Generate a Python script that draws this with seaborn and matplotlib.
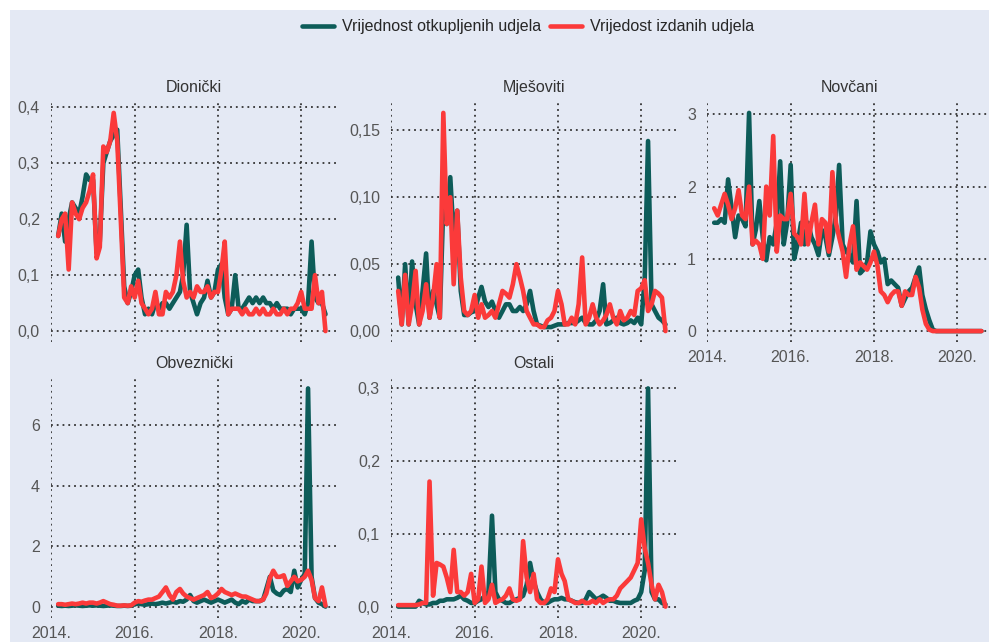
import pandas as pd
import seaborn as sns
import matplotlib.pyplot as plt
import matplotlib.dates as mdates
import matplotlib.ticker as mticker
from matplotlib.patches import Rectangle

# monthly data, Mar 2014 - Aug 2020
mjeseci = pd.date_range('2014-03-01', periods=78, freq='MS')

fondovi = ['Dionički', 'Mješoviti', 'Novčani', 'Obveznički', 'Ostali']
serije = ['Vrijednost otkupljenih udjela', 'Vrijedost izdanih udjela']

dionicki_otkup = [0.17, 0.21, 0.16, 0.20, 0.23, 0.22, 0.21, 0.24, 0.28, 0.27,
                  0.27, 0.14, 0.16, 0.30, 0.32, 0.34, 0.35, 0.36, 0.22, 0.08,
                  0.05, 0.07, 0.10, 0.11, 0.06, 0.03, 0.04, 0.03, 0.05, 0.04,
                  0.05, 0.05, 0.04, 0.05, 0.06, 0.07, 0.10, 0.19, 0.07, 0.05,
                  0.03, 0.05, 0.06, 0.09, 0.06, 0.07, 0.11, 0.12, 0.06, 0.03,
                  0.04, 0.10, 0.04, 0.04, 0.05, 0.06, 0.05, 0.06, 0.05, 0.06,
                  0.05, 0.05, 0.04, 0.05, 0.04, 0.04, 0.04, 0.03, 0.04, 0.04,
                  0.04, 0.03, 0.05, 0.16, 0.06, 0.05, 0.05, 0.03]
dionicki_izdanje = [0.17, 0.20, 0.21, 0.11, 0.23, 0.21, 0.20, 0.22, 0.23, 0.25,
                    0.28, 0.13, 0.15, 0.33, 0.32, 0.34, 0.39, 0.34, 0.20, 0.06,
                    0.05, 0.08, 0.06, 0.09, 0.05, 0.04, 0.03, 0.04, 0.07, 0.03,
                    0.03, 0.07, 0.06, 0.07, 0.10, 0.16, 0.09, 0.06, 0.07, 0.06,
                    0.08, 0.07, 0.07, 0.08, 0.06, 0.07, 0.07, 0.11, 0.16, 0.03,
                    0.04, 0.04, 0.04, 0.03, 0.04, 0.03, 0.03, 0.04, 0.03, 0.04,
                    0.03, 0.03, 0.04, 0.03, 0.03, 0.04, 0.03, 0.04, 0.04, 0.05,
                    0.07, 0.04, 0.04, 0.04, 0.10, 0.05, 0.07, 0.00]

mjesoviti_otkup = [0.040, 0.005, 0.050, 0.005, 0.052, 0.020, 0.005, 0.030, 0.058, 0.010,
                   0.030, 0.020, 0.010, 0.095, 0.080, 0.115, 0.070, 0.090, 0.030, 0.012,
                   0.012, 0.014, 0.015, 0.025, 0.033, 0.022, 0.018, 0.022, 0.015, 0.010,
                   0.015, 0.020, 0.020, 0.015, 0.015, 0.018, 0.015, 0.020, 0.030, 0.015,
                   0.005, 0.004, 0.003, 0.003, 0.003, 0.004, 0.005, 0.005, 0.005, 0.006,
                   0.006, 0.006, 0.008, 0.010, 0.006, 0.005, 0.005, 0.008, 0.015, 0.035,
                   0.005, 0.006, 0.008, 0.010, 0.006, 0.005, 0.006, 0.008, 0.006, 0.010,
                   0.005, 0.040, 0.142, 0.020, 0.015, 0.010, 0.008, 0.005]
mjesoviti_izdanje = [0.030, 0.005, 0.042, 0.005, 0.020, 0.045, 0.005, 0.015, 0.035, 0.010,
                     0.025, 0.050, 0.010, 0.163, 0.080, 0.100, 0.035, 0.090, 0.040, 0.015,
                     0.012, 0.015, 0.027, 0.010, 0.020, 0.010, 0.012, 0.015, 0.010, 0.020,
                     0.030, 0.028, 0.025, 0.035, 0.050, 0.040, 0.030, 0.015, 0.010, 0.005,
                     0.005, 0.003, 0.003, 0.008, 0.010, 0.015, 0.030, 0.020, 0.005, 0.005,
                     0.010, 0.005, 0.020, 0.055, 0.005, 0.010, 0.020, 0.010, 0.005, 0.008,
                     0.012, 0.020, 0.010, 0.005, 0.015, 0.008, 0.010, 0.015, 0.012, 0.030,
                     0.032, 0.038, 0.015, 0.020, 0.030, 0.028, 0.025, 0.000]

novcani_otkup = [1.50, 1.50, 1.55, 1.50, 2.10, 1.70, 1.30, 1.60, 1.55, 1.45,
                 3.02, 1.20, 1.40, 1.80, 1.30, 0.98, 1.30, 1.20, 1.50, 2.35,
                 1.20, 1.50, 2.30, 1.00, 1.20, 1.50, 1.20, 1.50, 1.30, 1.20,
                 1.05, 1.40, 1.30, 1.05, 1.30, 1.60, 2.30, 1.20, 1.10, 1.05,
                 0.95, 1.80, 0.80, 0.85, 0.95, 1.38, 1.20, 1.10, 0.95, 1.00,
                 0.65, 0.70, 0.65, 0.60, 0.35, 0.45, 0.55, 0.60, 0.75, 0.88,
                 0.50, 0.30, 0.15, 0.02, 0.00, 0.00, 0.00, 0.00, 0.00, 0.00,
                 0.00, 0.00, 0.00, 0.00, 0.00, 0.00, 0.00, 0.00]
novcani_izdanje = [1.70, 1.60, 1.75, 1.90, 1.75, 1.55, 1.70, 1.95, 1.60, 1.55,
                   2.00, 1.20, 1.25, 1.20, 1.00, 2.00, 1.60, 2.70, 1.10, 1.60,
                   1.55, 1.55, 1.90, 1.35, 1.30, 1.20, 1.90, 1.20, 1.50, 1.75,
                   1.20, 1.55, 1.50, 1.10, 2.20, 1.50, 1.30, 1.10, 0.75, 1.20,
                   1.45, 0.85, 0.95, 0.90, 0.85, 0.95, 1.10, 0.90, 0.55, 0.50,
                   0.40, 0.50, 0.55, 0.55, 0.35, 0.55, 0.50, 0.50, 0.75, 0.60,
                   0.30, 0.10, 0.02, 0.00, 0.00, 0.00, 0.00, 0.00, 0.00, 0.00,
                   0.00, 0.00, 0.00, 0.00, 0.00, 0.00, 0.00, 0.00]

obveznicki_otkup = [0.05, 0.04, 0.05, 0.04, 0.05, 0.06, 0.05, 0.04, 0.05, 0.06,
                    0.05, 0.06, 0.05, 0.04, 0.05, 0.06, 0.05, 0.04, 0.04, 0.05,
                    0.04, 0.05, 0.10, 0.12, 0.10, 0.08, 0.10, 0.12, 0.10, 0.12,
                    0.15, 0.12, 0.15, 0.18, 0.15, 0.20, 0.18, 0.25, 0.40, 0.20,
                    0.15, 0.20, 0.25, 0.20, 0.15, 0.20, 0.25, 0.20, 0.15, 0.20,
                    0.25, 0.15, 0.10, 0.20, 0.15, 0.25, 0.20, 0.20, 0.20, 0.25,
                    0.60, 1.00, 0.55, 0.45, 0.40, 0.55, 0.60, 0.50, 1.20, 0.65,
                    0.90, 1.10, 7.20, 1.00, 0.30, 0.15, 0.10, 0.02]
obveznicki_izdanje = [0.10, 0.10, 0.08, 0.10, 0.12, 0.10, 0.12, 0.15, 0.12, 0.15,
                      0.15, 0.12, 0.15, 0.20, 0.15, 0.10, 0.08, 0.05, 0.05, 0.06,
                      0.05, 0.06, 0.15, 0.20, 0.18, 0.22, 0.25, 0.25, 0.30, 0.35,
                      0.50, 0.65, 0.40, 0.25, 0.50, 0.60, 0.45, 0.35, 0.30, 0.25,
                      0.30, 0.35, 0.40, 0.50, 0.30, 0.35, 0.45, 0.60, 0.50, 0.45,
                      0.40, 0.45, 0.40, 0.35, 0.35, 0.30, 0.25, 0.20, 0.20, 0.25,
                      0.45, 0.95, 1.20, 1.00, 1.00, 1.05, 0.70, 0.85, 1.00, 0.85,
                      0.90, 1.00, 1.20, 0.90, 0.30, 0.20, 0.65, 0.05]

ostali_otkup = [0.000, 0.000, 0.000, 0.000, 0.000, 0.000, 0.008, 0.005, 0.003, 0.003,
                0.005, 0.005, 0.008, 0.008, 0.010, 0.010, 0.010, 0.012, 0.015, 0.010,
                0.008, 0.005, 0.005, 0.008, 0.010, 0.015, 0.020, 0.125, 0.020, 0.010,
                0.008, 0.005, 0.005, 0.008, 0.010, 0.012, 0.015, 0.030, 0.060, 0.035,
                0.020, 0.010, 0.005, 0.005, 0.008, 0.010, 0.010, 0.012, 0.010, 0.010,
                0.008, 0.006, 0.005, 0.005, 0.010, 0.020, 0.015, 0.010, 0.012, 0.015,
                0.012, 0.008, 0.008, 0.006, 0.005, 0.005, 0.005, 0.005, 0.008, 0.010,
                0.020, 0.050, 0.300, 0.020, 0.010, 0.010, 0.005, 0.003]
ostali_izdanje = [0.002, 0.002, 0.002, 0.002, 0.002, 0.002, 0.003, 0.005, 0.005, 0.172,
                  0.015, 0.060, 0.058, 0.055, 0.040, 0.020, 0.078, 0.020, 0.020, 0.015,
                  0.020, 0.045, 0.005, 0.010, 0.055, 0.005, 0.010, 0.030, 0.005, 0.008,
                  0.010, 0.015, 0.025, 0.010, 0.008, 0.010, 0.090, 0.040, 0.020, 0.045,
                  0.010, 0.005, 0.005, 0.010, 0.025, 0.020, 0.065, 0.045, 0.035, 0.010,
                  0.008, 0.005, 0.005, 0.008, 0.005, 0.005, 0.008, 0.005, 0.010, 0.005,
                  0.008, 0.010, 0.010, 0.015, 0.025, 0.030, 0.035, 0.040, 0.050, 0.060,
                  0.120, 0.080, 0.060, 0.030, 0.010, 0.030, 0.020, 0.000]

podaci = {
    'Dionički': (dionicki_otkup, dionicki_izdanje),
    'Mješoviti': (mjesoviti_otkup, mjesoviti_izdanje),
    'Novčani': (novcani_otkup, novcani_izdanje),
    'Obveznički': (obveznicki_otkup, obveznicki_izdanje),
    'Ostali': (ostali_otkup, ostali_izdanje),
}

rows = []
for fond in fondovi:
    for serija, vals in zip(serije, podaci[fond]):
        for d, v in zip(mjeseci, vals):
            rows.append({'datum': d, 'vrijednost': v, 'fond': fond, 'serija': serija})
df = pd.DataFrame(rows)

bg = '#e4e9f4'
boje = {'Vrijednost otkupljenih udjela': '#0d5c59', 'Vrijedost izdanih udjela': '#fb3a3a'}
fs = 11.5

sns.set_theme(style='white')
plt.rcParams['font.family'] = ['Liberation Sans', 'DejaVu Sans']

g = sns.relplot(data=df, x='datum', y='vrijednost', hue='serija', hue_order=serije,
                col='fond', col_order=fondovi, col_wrap=3, kind='line',
                palette=boje, linewidth=3.3, legend=False,
                facet_kws=dict(sharey=False, sharex=True))
fig = g.figure
fig.set_size_inches(9.89, 6.42)
fig.patch.set_facecolor('white')
fig.add_artist(Rectangle((10 / 989, 0), 1, 1 - 10 / 642, transform=fig.transFigure,
                         facecolor=bg, edgecolor='none', zorder=-5))

g.set_titles('{col_name}', size=fs, color='#333333', pad=7)
g.set_axis_labels('', '')

# manual layout of panels (left, bottom in px)
W, H = 286 / 989, 240 / 642
pozicije = [(51, 342), (391, 342), (707, 342), (51, 617.5), (391, 617.5)]
korak = {'Dionički': (0.1, 1), 'Mješoviti': (0.05, 2), 'Novčani': (1, 0),
         'Obveznički': (2, 0), 'Ostali': (0.1, 1)}

for ax, fond, (lx, by) in zip(g.axes.flat, fondovi, pozicije):
    ax.set_position([lx / 989, 1 - by / 642, W, H])
    ax.set_facecolor('none')
    for s in ax.spines.values():
        s.set_visible(False)
    ax.set_xlim(pd.Timestamp('2013-12-28'), pd.Timestamp('2020-11-10'))
    ax.xaxis.set_major_locator(mdates.YearLocator(2))
    ax.xaxis.set_major_formatter(mdates.DateFormatter('%Y.'))
    st, dec = korak[fond]
    ax.yaxis.set_major_locator(mticker.MultipleLocator(st))
    ax.yaxis.set_major_formatter(mticker.FuncFormatter(
        lambda v, p, d=dec: f'{v:.{d}f}'.replace('.', ',')))
    ax.grid(True, color='#333333', linestyle=(0, (1, 2.2)), linewidth=1.3)
    ax.set_axisbelow(True)
    ax.tick_params(length=0, labelsize=fs, labelcolor='#555555')
    ax.tick_params(axis='y', pad=8)
    ax.tick_params(axis='x', pad=6)

handles = g.axes.flat[0].get_lines()[:2]
fig.legend(handles, serije, loc='center', bbox_to_anchor=(528 / 989, 1 - 27 / 642),
           ncol=2, frameon=False, fontsize=fs, handlelength=2.0,
           handletextpad=0.5, columnspacing=0.6)

fig.savefig('out.png', dpi=100)
